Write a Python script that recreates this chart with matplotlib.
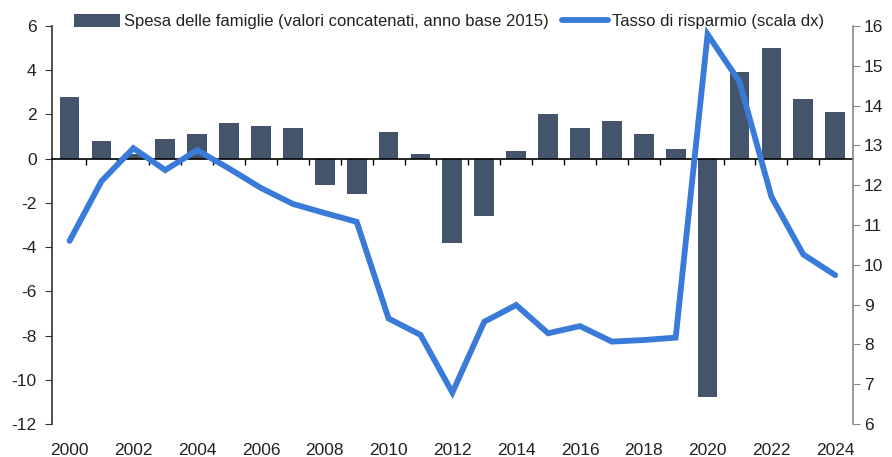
import matplotlib
matplotlib.use("Agg")
import matplotlib.pyplot as plt

years = list(range(2000, 2025))
spesa = [2.8, 0.8, 0.2, 0.9, 1.1, 1.6, 1.5, 1.4, -1.2, -1.6, 1.2, 0.2, -3.8,
         -2.6, 0.35, 2.0, 1.4, 1.7, 1.1, 0.45, -10.8, 3.9, 5.0, 2.7, 2.1]
risparmio = [10.6, 12.1, 12.93, 12.38, 12.88, 12.42, 11.93, 11.53, 11.3, 11.08,
             8.65, 8.24, 6.79, 8.57, 8.99, 8.28, 8.46, 8.07, 8.11, 8.17,
             15.79, 14.6, 11.71, 10.26, 9.74]
left_ticks = list(range(-12, 7, 2))
right_ticks = list(range(6, 17))
year_labels = list(range(2000, 2025, 2))

bar_color = "#44546A"
line_color = "#3A7BD9"
text_color = "#222222"

plt.rcParams["font.family"] = ["Liberation Sans", "DejaVu Sans"]

fig = plt.figure(figsize=(8.92, 4.57), dpi=100)
ax = fig.add_axes([0.0583, 0.0722, 0.8977, 0.8709])

ax.bar(years, spesa, width=0.62, color=bar_color, zorder=2,
       label="Spesa delle famiglie (valori concatenati, anno base 2015)")
ax.set_xlim(1999.45, 2024.55)
ax.set_ylim(-12, 6)
ax.set_yticks(left_ticks)
ax.set_yticklabels([str(t) for t in left_ticks])

# zero line with small ticks between years
ax.spines["bottom"].set_position(("data", 0))
ax.spines["bottom"].set_color("black")
ax.spines["bottom"].set_linewidth(1.2)
ax.spines["bottom"].set_zorder(3)
ax.set_xticks([y + 0.5 for y in years[:-1]])
ax.tick_params(axis="x", length=4, direction="out", labelbottom=False,
               color="black", width=1)
ax.spines["top"].set_visible(False)
ax.spines["right"].set_visible(False)
ax.spines["left"].set_color("#333333")
ax.spines["left"].set_linewidth(1.2)
ax.tick_params(axis="y", length=5, color="#333333", labelsize=12.5,
               labelcolor=text_color, pad=6)

sec = ax.secondary_xaxis("bottom")
sec.set_xticks(year_labels)
sec.set_xticklabels([str(y) for y in year_labels])
sec.tick_params(length=0, labelsize=12.5, labelcolor=text_color, pad=14)
sec.spines["bottom"].set_visible(False)

ax2 = ax.twinx()
ax2.plot(years, risparmio, color=line_color, linewidth=4.2,
         solid_joinstyle="miter", solid_capstyle="round",
         label="Tasso di risparmio (scala dx)")
ax2.set_ylim(6, 16)
ax2.set_yticks(right_ticks)
ax2.set_yticklabels([str(t) for t in right_ticks])
for s in ["top", "left", "bottom"]:
    ax2.spines[s].set_visible(False)
ax2.spines["right"].set_color("#888888")
ax2.spines["right"].set_linewidth(1.2)
ax2.tick_params(axis="y", length=5, color="#888888", labelsize=12.5,
                labelcolor=text_color, pad=3)

h1, l1 = ax.get_legend_handles_labels()
h2, l2 = ax2.get_legend_handles_labels()
fig.legend(h1 + h2, l1 + l2, loc="upper center", bbox_to_anchor=(0.503, 0.985),
           ncol=2, frameon=False, fontsize=12, handlelength=2.8,
           handleheight=0.9, handletextpad=0.2, columnspacing=0.8,
           borderaxespad=0.0, labelcolor=text_color)

fig.savefig("out.png", dpi=100)
